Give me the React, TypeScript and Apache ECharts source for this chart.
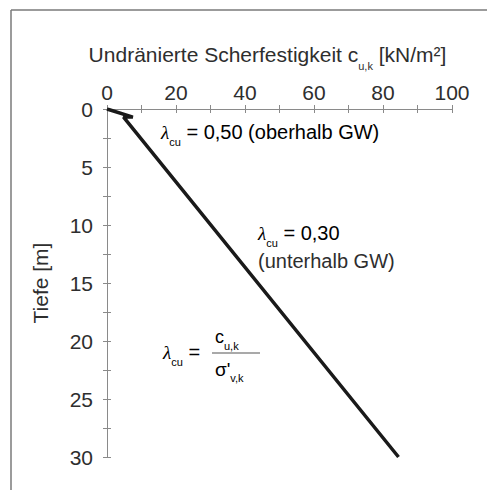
import React, { useEffect, useRef } from "react";
import * as echarts from "echarts";

const depthM = [0, 0.7, 0.7, 30];
const cuValues = [0, 7.5, 4.8, 84.5];
const xTicks = [0, 20, 40, 60, 80, 100];
const yTicks = [0, 5, 10, 15, 20, 25, 30];

const TXT = "#2e2e2e";
const AX = "#8a8a8a";
const FONT = "Liberation Sans, Arial, sans-serif";

export default function App() {
  const ref = useRef<HTMLDivElement>(null);
  useEffect(() => {
    document.body.style.margin = "0";
    const chart = echarts.init(ref.current!, null, { renderer: "svg" });
    const lam = {
      l: { fontFamily: "Liberation Serif, serif", fontStyle: "italic", fontSize: 19, color: TXT },
      s: { fontFamily: FONT, fontSize: 11, color: TXT, verticalAlign: "bottom", padding: [0, 0, -5, 0] },
      t: { fontFamily: FONT, fontSize: 20, color: TXT },
    };
    const axisCommon = {
      type: "value" as const,
      axisLine: { show: true, lineStyle: { color: AX, width: 1 } },
      axisTick: { show: true, inside: true, length: 4, lineStyle: { color: AX } },
      splitLine: { show: false },
      minorTick: { show: false },
    };
    const data = depthM.map((d, i) => [cuValues[i], d]);
    chart.setOption({
      animation: false,
      backgroundColor: "#ffffff",
      grid: { left: 107, top: 109, right: 35, bottom: 33, containLabel: false },
      xAxis: [
        {
          ...axisCommon,
          position: "top",
          min: 0,
          max: 100,
          interval: 10,
          name: "Undränierte Scherfestigkeit {c|c}{s|u,k} [kN/m²]",
          nameLocation: "middle",
          nameGap: 44,
          nameTextStyle: {
            fontFamily: FONT,
            fontSize: 21,
            color: TXT,
            padding: [0, 24, 0, 0],
            rich: {
              c: { fontFamily: FONT, fontSize: 21, color: TXT },
              s: { fontFamily: FONT, fontSize: 11, color: TXT, verticalAlign: "bottom", padding: [0, 0, -6, 0] },
            },
          },
          axisLabel: {
            fontFamily: FONT,
            fontSize: 21,
            color: TXT,
            margin: 6,
            formatter: (v: number) => (xTicks.includes(v) ? String(v) : ""),
          },
        },
        {
          ...axisCommon,
          position: "bottom",
          min: 0,
          max: 100,
          interval: 10,
          axisLabel: { show: false },
        },
      ],
      yAxis: [
        {
          ...axisCommon,
          position: "left",
          inverse: true,
          min: 0,
          max: 30,
          interval: 2.5,
          name: "Tiefe [m]",
          nameLocation: "middle",
          nameRotate: 90,
          nameGap: 56,
          nameTextStyle: { fontFamily: FONT, fontSize: 21, color: TXT },
          axisLabel: {
            fontFamily: FONT,
            fontSize: 21,
            color: TXT,
            margin: 14,
            formatter: (v: number) => (yTicks.includes(v) ? String(v) : ""),
          },
        },
        {
          ...axisCommon,
          position: "right",
          inverse: true,
          min: 0,
          max: 30,
          interval: 2.5,
          axisLabel: { show: false },
        },
      ],
      series: [
        {
          type: "line",
          data,
          xAxisIndex: 0,
          yAxisIndex: 0,
          showSymbol: false,
          symbol: "none",
          lineStyle: { color: "#1a1a1a", width: 3.5 },
        },
      ],
      graphic: [
        { type: "line", shape: { x1: 11, y1: 10, x2: 487, y2: 10 }, style: { stroke: "#7a7a7a", lineWidth: 1.5 } },
        { type: "line", shape: { x1: 11, y1: 10, x2: 11, y2: 490 }, style: { stroke: "#7a7a7a", lineWidth: 1.5 } },
        {
          type: "text",
          x: 161,
          y: 132,
          style: { text: "{l|λ}{s|cu}{t| = 0,50 (oberhalb GW)}", rich: lam, verticalAlign: "middle" },
        },
        {
          type: "text",
          x: 258,
          y: 233,
          style: { text: "{l|λ}{s|cu}{t| = 0,30}", rich: lam, verticalAlign: "middle" },
        },
        {
          type: "text",
          x: 258,
          y: 261,
          style: { text: "(unterhalb GW)", font: "20px " + FONT, fill: TXT, verticalAlign: "middle" },
        },
        {
          type: "text",
          x: 163,
          y: 352,
          style: { text: "{l|λ}{s|cu}{t| =}", rich: lam, verticalAlign: "middle" },
        },
        {
          type: "text",
          x: 215,
          y: 337,
          style: {
            text: "{t|c}{s|u,k}",
            verticalAlign: "middle",
            rich: { t: { fontFamily: FONT, fontSize: 18, color: TXT }, s: lam.s },
          },
        },
        { type: "line", shape: { x1: 212, y1: 353, x2: 260, y2: 353 }, style: { stroke: "#555", lineWidth: 1.2 } },
        {
          type: "text",
          x: 215,
          y: 369,
          style: {
            text: "{t|σ'}{s|v,k}",
            verticalAlign: "middle",
            rich: { t: { fontFamily: FONT, fontSize: 19, color: TXT }, s: lam.s },
          },
        },
      ],
    });
    return () => chart.dispose();
  }, []);
  return <div ref={ref} style={{ width: 487, height: 490 }} />;
}
